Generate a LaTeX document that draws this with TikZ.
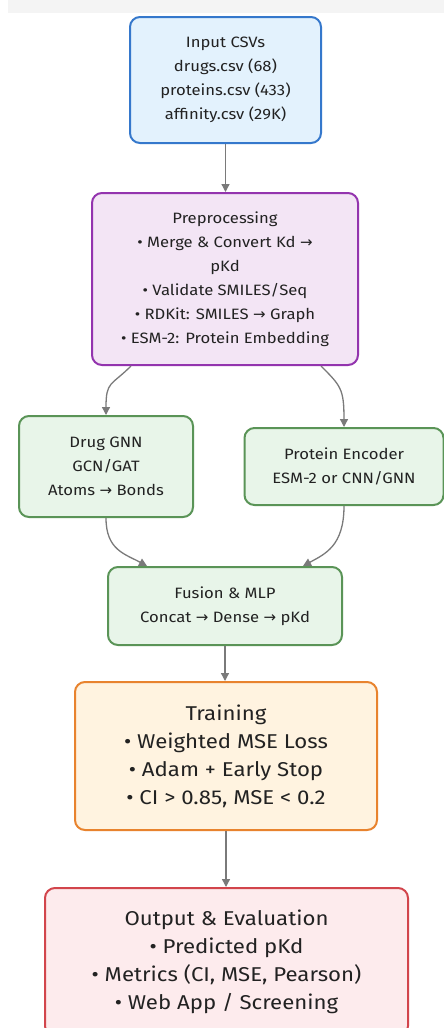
\documentclass[tikz,border=0pt]{standalone}
\usepackage{fontspec}
\setmainfont{Fira Sans}[Numbers=Lining, FakeStretch=1.11]
\newfontfamily\arrowfont{DejaVu Sans}
\usetikzlibrary{arrows.meta,calc}

\newcommand{\ar}{{\arrowfont\char"2192}}

\definecolor{bandgray}{HTML}{F4F4F4}
\definecolor{bluefill}{HTML}{E3F2FD}
\definecolor{blueline}{HTML}{3578CC}
\definecolor{purplefill}{HTML}{F3E5F5}
\definecolor{purpleline}{HTML}{9334AE}
\definecolor{greenfill}{HTML}{E8F5E9}
\definecolor{greenline}{HTML}{5A9457}
\definecolor{orangefill}{HTML}{FFF3E0}
\definecolor{orangeline}{HTML}{E8832E}
\definecolor{redfill}{HTML}{FDEBED}
\definecolor{redline}{HTML}{D2454C}
\definecolor{edgegray}{HTML}{7A7A7A}
\definecolor{textcol}{HTML}{222222}

\begin{document}
\begin{tikzpicture}[x=1pt,y=1pt,
  box/.style={draw, line width=2pt, rounded corners=10pt, align=center,
    inner sep=0pt, text=textcol},
  smalltext/.style={font=\fontsize{15}{24}\selectfont},
  bigtext/.style={font=\fontsize{20}{28}\selectfont},
  conn/.style={draw=edgegray, line width=1.3pt,
    -{Triangle[length=8pt,width=8pt]}}]

\useasboundingbox (0,0) rectangle (444,-1028);
\fill[white] (0,0) rectangle (444,-1028);
\clip (0,0) rectangle (444,-1028);
% faint band along the top edge
\fill[bandgray] (8,0) rectangle (444,-13);

% stages of the pipeline
\node[box, smalltext, fill=bluefill, draw=blueline,
  minimum width=191pt, minimum height=126pt] (csv) at (225.5,-80)
  {Input CSVs\\drugs.csv (68)\\proteins.csv (433)\\affinity.csv (29K)};

\node[box, smalltext, fill=purplefill, draw=purpleline,
  minimum width=266pt, minimum height=172pt] (pre) at (225,-279)
  {Preprocessing\\
   • Merge \& Convert Kd \ar\\ pKd\\
   • Validate SMILES/Seq\\
   • RDKit: SMILES \ar{} Graph\\
   • ESM-2: Protein Embedding};

\node[box, smalltext, fill=greenfill, draw=greenline,
  minimum width=174pt, minimum height=101pt] (drug) at (106,-466.5)
  {Drug GNN\\GCN/GAT\\Atoms \ar{} Bonds};

\node[box, smalltext, fill=greenfill, draw=greenline,
  minimum width=199pt, minimum height=77pt] (prot) at (344,-466.5)
  {Protein Encoder\\ESM-2 or CNN/GNN};

\node[box, smalltext, fill=greenfill, draw=greenline,
  minimum width=234pt, minimum height=78pt] (fus) at (225,-606)
  {Fusion \& MLP\\Concat \ar{} Dense \ar{} pKd};

\node[box, bigtext, fill=orangefill, draw=orangeline,
  minimum width=302pt, minimum height=148pt] (train) at (226,-756)
  {Training\\
   • Weighted MSE Loss\\
   • Adam + Early Stop\\
   • CI > 0.85, MSE < 0.2};

\node[box, bigtext, fill=redfill, draw=redline,
  minimum width=363pt, minimum height=148pt] (out) at (226.5,-962)
  {Output \& Evaluation\\
   • Predicted pKd\\
   • Metrics (CI, MSE, Pearson)\\
   • Web App / Screening};

% connectors
\draw[conn] (csv.south) -- (csv.south |- pre.north);

\coordinate (preL) at ($(pre.south west)+(40,0)$);
\coordinate (preR) at ($(pre.south east)+(-38,0)$);
\draw[conn] (preL) .. controls ($(preL)+(-20,-20)$) and ($(drug.north)+(0,34)$) .. (drug.north);
\draw[conn] (preR) .. controls ($(preR)+(20,-20)$) and ($(prot.north)+(0,38)$) .. (prot.north);

\coordinate (fusL) at ($(fus.north west)+(40,0)$);
\coordinate (fusR) at ($(fus.north east)+(-40,0)$);
\draw[conn] (drug.south) .. controls ($(drug.south)+(0,-32)$) and ($(fusL)+(-22,12)$) .. (fusL);
\draw[conn] (prot.south) .. controls ($(prot.south)+(0,-40)$) and ($(fusR)+(22,12)$) .. (fusR);

\draw[conn] (fus.south) -- (fus.south |- train.north);
\draw[conn] (train.south) -- (train.south |- out.north);
\end{tikzpicture}
\end{document}
